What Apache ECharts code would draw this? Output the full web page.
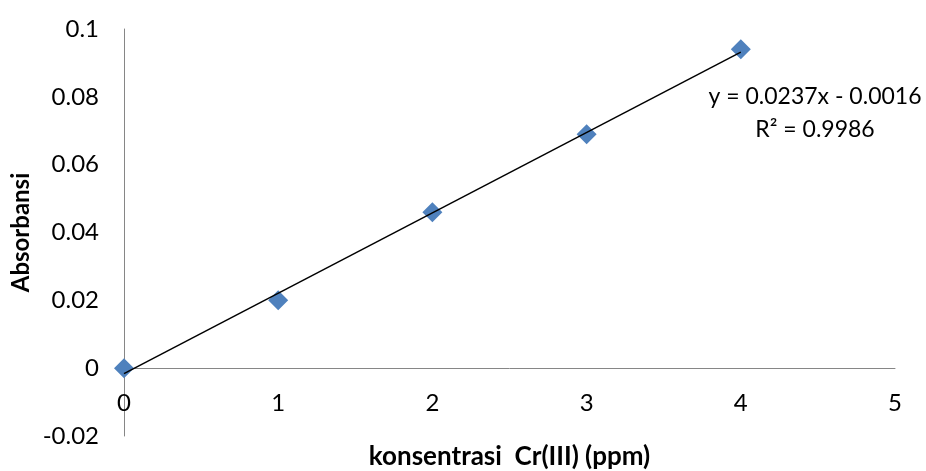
<!DOCTYPE html>
<html>
<head>
<meta charset="utf-8">
<script src="https://cdn.jsdelivr.net/npm/echarts@6/dist/echarts.min.js"></script>
<style>
html,body{margin:0;padding:0;background:#fff;}
#chart{width:926px;height:471px;}
</style>
</head>
<body>
<div id="chart"></div>
<script>
const concentrations = [0, 1, 2, 3, 4];
const absorbance = [0, 0.020, 0.046, 0.069, 0.094];
const slope = 0.0237;
const intercept = -0.0016;
const trendX = [0, 4];
const equationText = 'y = 0.0237x - 0.0016';
const r2Text = 'R² = 0.9986';
const xTitle = 'konsentrasi  Cr(III) (ppm)';
const yTitle = 'Absorbansi';

const FONT = 'Lato, "Open Sans", sans-serif';
const chart = echarts.init(document.getElementById('chart'));
const pts = concentrations.map((x, i) => [x, absorbance[i]]);
const trend = trendX.map(x => [x, slope * x + intercept]);

chart.setOption({
  animation: false,
  backgroundColor: '#fff',
  grid: {left: 124, right: 31, top: 29, bottom: 35, containLabel: false, outerBoundsMode: 'none'},
  xAxis: {
    type: 'value', min: 0, max: 5, interval: 1,
    axisLine: {show: true, onZero: true, lineStyle: {color: '#868686', width: 1}},
    axisTick: {show: false},
    splitLine: {show: false},
    axisLabel: {color: '#000', fontFamily: FONT, fontSize: 24, margin: -45},
    name: xTitle, nameLocation: 'middle', nameGap: 8, nameMoveOverlap: false,
    nameTextStyle: {color: '#000', fontFamily: FONT, fontSize: 26, fontWeight: 'bold'}
  },
  yAxis: {
    type: 'value', min: -0.02, max: 0.1, interval: 0.02,
    axisLine: {show: true, onZero: true, lineStyle: {color: '#868686', width: 1}},
    axisTick: {show: false},
    splitLine: {show: false},
    axisLabel: {color: '#000', fontFamily: FONT, fontSize: 24, margin: 25,
      formatter: v => String(+v.toFixed(2))},
    name: yTitle, nameLocation: 'middle', nameGap: 91, nameRotate: 90, nameMoveOverlap: false,
    nameTextStyle: {color: '#000', fontFamily: FONT, fontSize: 24, fontWeight: 'bold'}
  },
  series: [
    {
      type: 'line', data: trend, symbol: 'none', silent: true,
      lineStyle: {color: '#000', width: 1.5}, z: 3
    },
    {
      type: 'scatter', data: pts, symbol: 'diamond', symbolSize: 20,
      itemStyle: {color: '#4F81BD', opacity: 1}, z: 2
    }
  ],
  graphic: [
    {type: 'text', x: 815, y: 97, style: {text: equationText, font: '23px ' + FONT, fill: '#000', align: 'center', verticalAlign: 'middle'}},
    {type: 'text', x: 815, y: 130, style: {text: r2Text, font: '23px ' + FONT, fill: '#000', align: 'center', verticalAlign: 'middle'}}
  ]
});
</script>
</body>
</html>
